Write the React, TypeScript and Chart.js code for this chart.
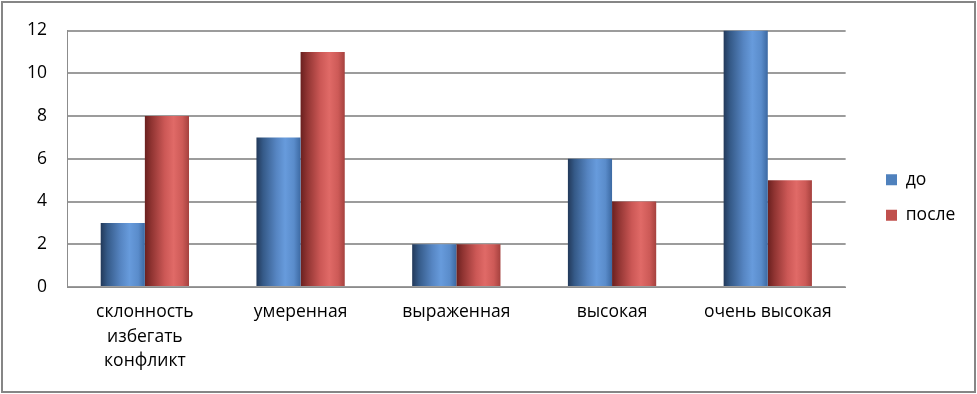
import React, { useEffect, useRef } from "react";
import { Chart, registerables } from "chart.js";

Chart.register(...registerables);

const categories: (string | string[])[] = [
  ["склонность", "избегать", "конфликт"],
  "умеренная",
  "выраженная",
  "высокая",
  "очень высокая",
];
const seriesNames = ["до", "после"];
const beforeValues = [3, 7, 2, 6, 12];
const afterValues = [8, 11, 2, 4, 5];
const yTicks = [0, 2, 4, 6, 8, 10, 12];

const FONT = "'Open Sans', sans-serif";
const FS = 17.5;

const gradStops: [number, string][][] = [
  [
    [0, "#22395a"],
    [0.15, "#355a88"],
    [0.45, "#5685c2"],
    [0.65, "#679bdc"],
    [0.85, "#5a8ccb"],
    [1, "#3c69a2"],
  ],
  [
    [0, "#6a201f"],
    [0.15, "#903432"],
    [0.45, "#cc5856"],
    [0.65, "#e06a67"],
    [0.85, "#cd5a57"],
    [1, "#a5413e"],
  ],
];

const gradientPlugin = {
  id: "cylGradient",
  beforeDatasetsDraw(chart: any) {
    const ctx = chart.ctx;
    chart.data.datasets.forEach((_ds: any, i: number) => {
      const meta = chart.getDatasetMeta(i);
      meta.data.forEach((bar: any) => {
        const { x, width } = bar.getProps(["x", "width"], true);
        const g = ctx.createLinearGradient(x - width / 2, 0, x + width / 2, 0);
        gradStops[i].forEach(([o, c]) => g.addColorStop(o, c));
        bar.options = { ...bar.options, backgroundColor: g };
      });
    });
  },
};

const legendShift = {
  id: "legendShift",
  afterLayout(chart: any) {
    const lg = chart.legend;
    if (lg) {
      const dx = 887 - (chart.chartArea.right + 19);
      lg.left += dx;
      lg.right += dx;
      lg.top -= 14;
      lg.bottom -= 14;
    }
  },
};

export default function App() {
  const ref = useRef<HTMLCanvasElement>(null);
  useEffect(() => {
    if (!ref.current) return;
    const chart = new Chart(ref.current, {
      type: "bar",
      data: {
        labels: categories,
        datasets: [
          { label: seriesNames[0], data: beforeValues, backgroundColor: "#4f81bd", borderWidth: 0 },
          { label: seriesNames[1], data: afterValues, backgroundColor: "#c0504d", borderWidth: 0 },
        ],
      },
      options: {
        animation: false,
        responsive: false,
        maintainAspectRatio: false,
        layout: { padding: { top: 29, right: 34, bottom: 0, left: 0 } },
        datasets: { bar: { categoryPercentage: 0.567, barPercentage: 1 } },
        plugins: {
          tooltip: { enabled: false },
          legend: {
            position: "right",
            labels: {
              boxWidth: 11,
              boxHeight: 11,
              padding: 18,
              color: "#000",
              font: { family: FONT, size: FS },
            },
          },
        },
        scales: {
          x: {
            grid: { display: false, drawTicks: false },
            border: { display: true, color: "#8c8c8c", width: 1 },
            ticks: {
              color: "#000",
              padding: 13,
              maxRotation: 0,
              autoSkip: false,
              font: { family: FONT, size: FS, lineHeight: 1.4 },
            },
            afterFit(scale: any) {
              scale.height = 107;
            },
          },
          y: {
            min: 0,
            max: 12,
            afterBuildTicks(scale: any) {
              scale.ticks = yTicks.map((v) => ({ value: v }));
            },
            grid: { color: "#9c9c9c", lineWidth: 2, drawTicks: false },
            border: { display: true, color: "#8c8c8c", width: 1 },
            ticks: {
              color: "#000",
              padding: 20,
              font: { family: FONT, size: FS },
            },
            afterFit(scale: any) {
              scale.width = 67;
            },
          },
        },
      },
      plugins: [gradientPlugin, legendShift],
    });
    return () => chart.destroy();
  }, []);
  return (
    <div style={{ position: "absolute", left: 0, top: 0, width: 977, height: 394, background: "#fff" }}>
      <canvas ref={ref} width={977} height={394} style={{ position: "absolute", left: 0, top: 0 }} />
      <div
        style={{
          position: "absolute",
          left: 1,
          top: 1,
          width: 975,
          height: 392,
          boxSizing: "border-box",
          border: "2px solid #868686",
          pointerEvents: "none",
        }}
      />
    </div>
  );
}
